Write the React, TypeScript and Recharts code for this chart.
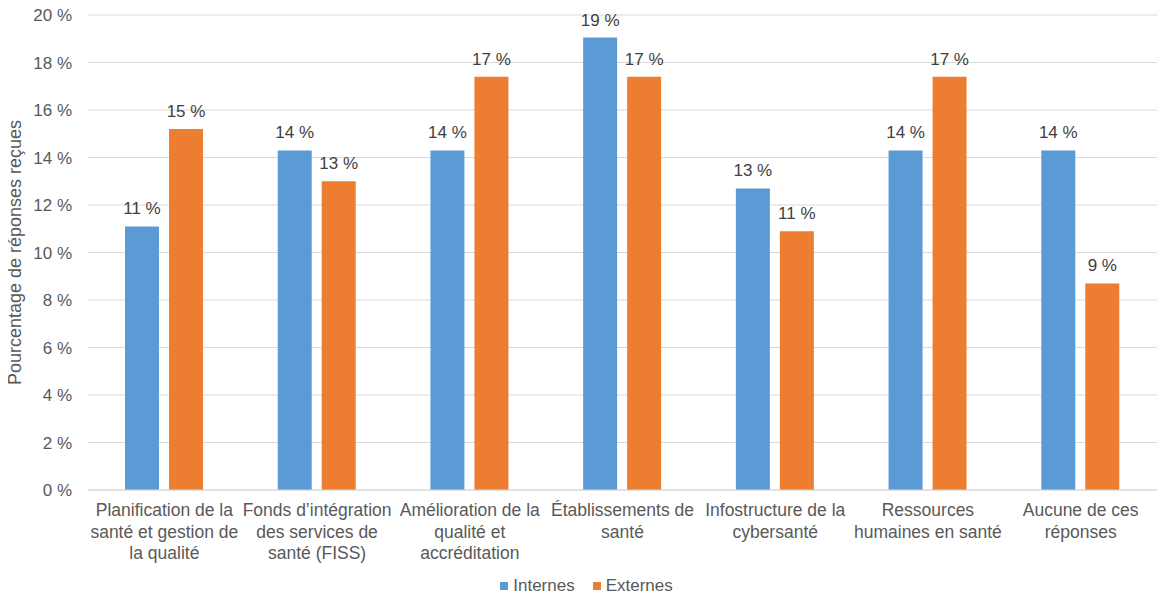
import { BarChart, Bar, XAxis, YAxis, CartesianGrid, Legend, LabelList, Label } from "recharts";

const categories = [
  "Planification de la\nsanté et gestion de\nla qualité",
  "Fonds d’intégration\ndes services de\nsanté (FISS)",
  "Amélioration de la\nqualité et\naccréditation",
  "Établissements de\nsanté",
  "Infostructure de la\ncybersanté",
  "Ressources\nhumaines en santé",
  "Aucune de ces\nréponses",
];
const internes = [11.1, 14.3, 14.3, 19.05, 12.7, 14.3, 14.3];
const externes = [15.2, 13.0, 17.4, 17.4, 10.9, 17.4, 8.7];
const yTicks = [0, 2, 4, 6, 8, 10, 12, 14, 16, 18, 20];

const data = categories.map((c, i) => ({ c, internes: internes[i], externes: externes[i] }));

const FONT = "'Liberation Sans', Arial, sans-serif";
const BLUE = "#5b9bd5";
const ORANGE = "#ed7d31";
const series = [
  { key: "internes", name: "Internes", color: BLUE },
  { key: "externes", name: "Externes", color: ORANGE },
];

function CatTick({ x, y, payload }: any) {
  const lines = String(payload.value).split("\n");
  return (
    <text x={x} y={y + 18} textAnchor="middle" fill="#595959" fontSize={17.5} fontFamily={FONT}>
      {lines.map((l, i) => (
        <tspan key={i} x={x} dy={i === 0 ? 0 : 21.5}>{l}</tspan>
      ))}
    </text>
  );
}

function ValueLabel({ x, y, width, value }: any) {
  return (
    <text x={x + width / 2} y={y - 12} textAnchor="middle" fill="#404040" fontSize={17} fontFamily={FONT}>
      {`${Math.round(Number(value))} %`}
    </text>
  );
}

function LegendBox() {
  return (
    <div style={{ display: "flex", justifyContent: "center", alignItems: "center", gap: 18, fontFamily: FONT, fontSize: 17, color: "#595959" }}>
      <span style={{ width: 0, marginLeft: -2 }} />
      {series.map((s) => (
        <span key={s.key} style={{ display: "flex", alignItems: "center", gap: 5 }}>
          <span style={{ width: 8, height: 8, background: s.color, display: "inline-block" }} />
          {s.name}
        </span>
      ))}
    </div>
  );
}

export default function App() {
  return (
    <div style={{ margin: -8 }}>
      <BarChart
        width={1170}
        height={599}
        data={data}
        margin={{ top: 15, right: 13, bottom: 1, left: 0 }}
        barGap={10}
        barSize={34}
        style={{ fontFamily: FONT }}
      >
        <CartesianGrid vertical={false} stroke="#d9d9d9" />
        <XAxis
          dataKey="c"
          interval={0}
          height={86}
          tickLine={false}
          axisLine={{ stroke: "#d9d9d9" }}
          tick={<CatTick />}
        />
        <YAxis
          width={88}
          domain={[0, 20]}
          ticks={yTicks}
          tickFormatter={(v) => `${v} %`}
          tickLine={false}
          axisLine={false}
          tickMargin={10}
          tick={{ fill: "#595959", fontSize: 17, fontFamily: FONT }}
        >
          <Label
            value="Pourcentage de réponses reçues"
            angle={-90}
            position="center"
            dx={-29}
            style={{ fill: "#595959", fontSize: 18, fontFamily: FONT }}
          />
        </YAxis>
        <Legend verticalAlign="bottom" height={22} content={<LegendBox />} />
        {series.map((s) => (
          <Bar key={s.key} dataKey={s.key} name={s.name} fill={s.color} isAnimationActive={false}>
            <LabelList dataKey={s.key} content={<ValueLabel />} />
          </Bar>
        ))}
      </BarChart>
    </div>
  );
}
